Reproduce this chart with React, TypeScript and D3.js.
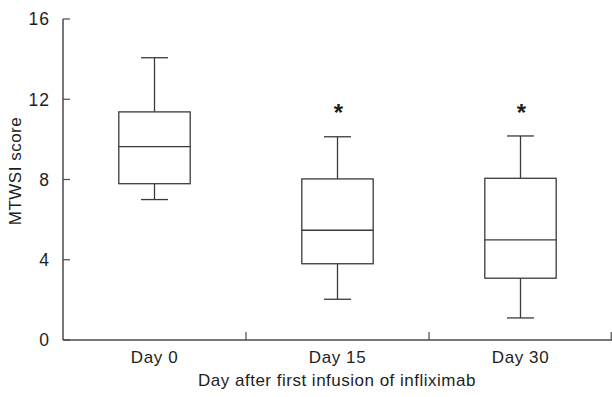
import React from "react";
import * as d3 from "d3";

const categories = ["Day 0", "Day 15", "Day 30"];
const whiskerLow = [7.0, 2.03, 1.1];
const q1 = [7.79, 3.8, 3.08];
const median = [9.64, 5.47, 4.99];
const q3 = [11.37, 8.03, 8.06];
const whiskerHigh = [14.07, 10.13, 10.17];
const significant = [false, true, true];
const yTicks = [0, 4, 8, 12, 16];

const W = 612;
const H = 397;
const left = 63;
const right = 612;
const top = 19;
const bottom = 340;

export default function App() {
  const x = d3.scaleBand<string>().domain(categories).range([left, right]).paddingInner(0).paddingOuter(0);
  const y = d3.scaleLinear().domain([0, 16]).range([bottom, top]);
  const boxW = x.bandwidth() * 0.39;
  const capW = 27;
  const stroke = "#3a3a3a";
  const font = "Arial, 'Liberation Sans', Helvetica, sans-serif";
  const boundaries = categories.map((c) => (x(c) as number) + x.bandwidth());

  return (
    <svg width={W} height={H} style={{ position: "absolute", left: 0, top: 0, background: "#fff" }}>
      <rect x={0} y={0} width={W} height={H} fill="#fff" />
      <line x1={left} x2={left} y1={top} y2={bottom} stroke="#4a4a4a" strokeWidth={1.5} />
      <line x1={left} x2={right} y1={bottom} y2={bottom} stroke="#4a4a4a" strokeWidth={1.5} />
      {yTicks.map((t) => (
        <g key={t}>
          <line x1={left} x2={left + 7} y1={y(t)} y2={y(t)} stroke="#4a4a4a" strokeWidth={1.2} />
          <text x={50} y={y(t)} dy="0.36em" textAnchor="end" fontFamily={font} fontSize={17.5} letterSpacing={1} fill="#1e1e1e">
            {t}
          </text>
        </g>
      ))}
      {boundaries.map((b, i) => (
        <line key={i} x1={Math.min(b, right - 0.75)} x2={Math.min(b, right - 0.75)} y1={bottom - 8} y2={bottom} stroke="#4a4a4a" strokeWidth={1.2} />
      ))}
      {categories.map((c) => (
        <text key={c} x={(x(c) as number) + x.bandwidth() / 2} y={362.5} textAnchor="middle" fontFamily={font} fontSize={17} letterSpacing={0.6} fill="#1e1e1e">
          {c}
        </text>
      ))}
      <text x={337} y={386} textAnchor="middle" fontFamily={font} fontSize={17} letterSpacing={0.5} fill="#1e1e1e">
        Day after first infusion of infliximab
      </text>
      <text transform={`translate(21,171) rotate(-90)`} textAnchor="middle" fontFamily={font} fontSize={17} letterSpacing={0.5} fill="#1e1e1e">
        MTWSI score
      </text>
      {categories.map((c, i) => {
        const cx = (x(c) as number) + x.bandwidth() / 2;
        return (
          <g key={c} stroke={stroke} strokeWidth={1.3} fill="none">
            <line x1={cx} x2={cx} y1={y(whiskerHigh[i])} y2={y(q3[i])} />
            <line x1={cx} x2={cx} y1={y(q1[i])} y2={y(whiskerLow[i])} />
            <line x1={cx - capW / 2} x2={cx + capW / 2} y1={y(whiskerHigh[i])} y2={y(whiskerHigh[i])} />
            <line x1={cx - capW / 2} x2={cx + capW / 2} y1={y(whiskerLow[i])} y2={y(whiskerLow[i])} />
            <rect x={cx - boxW / 2} y={y(q3[i])} width={boxW} height={y(q1[i]) - y(q3[i])} fill="#fff" />
            <line x1={cx - boxW / 2} x2={cx + boxW / 2} y1={y(median[i])} y2={y(median[i])} />
            {significant[i] && (
              <text x={cx + 1} y={121} textAnchor="middle" fontFamily={font} fontSize={24} fontWeight="bold" fill="#1e1e1e" stroke="none">
                *
              </text>
            )}
          </g>
        );
      })}
    </svg>
  );
}
